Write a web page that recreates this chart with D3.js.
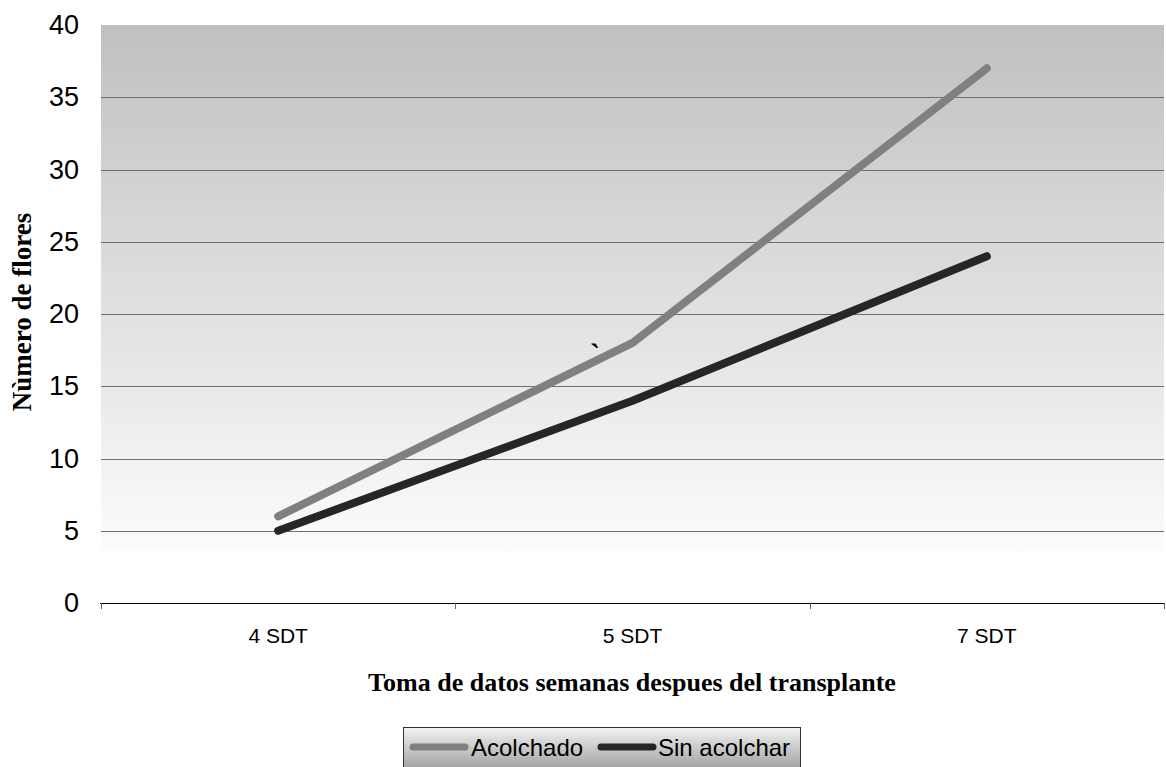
<!DOCTYPE html>
<html><head><meta charset="utf-8">
<script src="https://cdn.jsdelivr.net/npm/d3@7"></script>
<style>body{margin:0;background:#fff}svg{display:block}</style>
</head><body>
<script>
const categories = ["4 SDT", "5 SDT", "7 SDT"];
const acolchado = [6, 18, 37];
const sinAcolchar = [5, 14, 24];
const yTicks = [0, 5, 10, 15, 20, 25, 30, 35, 40];
const seriesNames = ["Acolchado", "Sin acolchar"];
const seriesColors = ["#808080", "#262626"];

const W = 1166, H = 767;
const m = {left: 101, right: 1164, top: 25, bottom: 603};
const svg = d3.select("body").append("svg").attr("width", W).attr("height", H);

const x = d3.scaleBand().domain(categories).range([m.left, m.right]);
const y = d3.scaleLinear().domain([0, 40]).range([m.bottom, m.top]);

const defs = svg.append("defs");
const g1 = defs.append("linearGradient").attr("id", "bg").attr("x1", 0).attr("y1", 0).attr("x2", 0).attr("y2", 1);
g1.append("stop").attr("offset", "0%").attr("stop-color", "#c0c0c0");
g1.append("stop").attr("offset", "91%").attr("stop-color", "#fcfcfc");
g1.append("stop").attr("offset", "91%").attr("stop-color", "#ffffff");
g1.append("stop").attr("offset", "100%").attr("stop-color", "#ffffff");

const g2 = defs.append("linearGradient").attr("id", "lg").attr("x1", 0).attr("y1", 0).attr("x2", 0).attr("y2", 1);
g2.append("stop").attr("offset", "0%").attr("stop-color", "#f2f2f2");
g2.append("stop").attr("offset", "100%").attr("stop-color", "#9a9a9a");

svg.append("rect").attr("x", m.left).attr("y", m.top).attr("width", m.right - m.left).attr("height", m.bottom - m.top).attr("fill", "url(#bg)");

// gridlines
svg.append("g").selectAll("line").data(yTicks.filter(d => d > 0 && d < 40)).join("line")
  .attr("x1", m.left).attr("x2", m.right)
  .attr("y1", d => Math.round(y(d)) + 0.5).attr("y2", d => Math.round(y(d)) + 0.5)
  .attr("stroke", "#6e6e6e").attr("stroke-width", 1);

// y axis labels
const yAxis = d3.axisLeft(y).tickValues(yTicks).tickSize(0).tickPadding(22);
const ya = svg.append("g").attr("transform", `translate(${m.left},0)`).call(yAxis);
ya.select(".domain").remove();
ya.selectAll("text").attr("font-family", "Liberation Sans, Arial, sans-serif").attr("font-size", 27).attr("fill", "#000");

// x axis
const xAxis = d3.axisBottom(x).tickSize(0).tickPadding(25);
const xa = svg.append("g").attr("transform", `translate(0,${m.bottom})`).call(xAxis);
xa.select(".domain").remove();
xa.selectAll("text").attr("font-family", "Liberation Sans, Arial, sans-serif").attr("font-size", 21).attr("fill", "#000");
svg.append("line").attr("x1", m.left - 1).attr("x2", m.right + 1).attr("y1", m.bottom + 0.5).attr("y2", m.bottom + 0.5).attr("stroke", "#000");
const bounds = [m.left, ...categories.map(c => x(c) + x.bandwidth())];
svg.append("g").selectAll("line").data(bounds).join("line")
  .attr("x1", d => Math.round(d) + 0.5).attr("x2", d => Math.round(d) + 0.5)
  .attr("y1", m.bottom).attr("y2", m.bottom + 6).attr("stroke", "#666");

// lines
const line = d3.line().x((d, i) => x(categories[i]) + x.bandwidth() / 2).y(d => y(d));
[acolchado, sinAcolchar].forEach((s, i) => {
  svg.append("path").attr("d", line(s)).attr("fill", "none")
    .attr("stroke", seriesColors[i]).attr("stroke-width", 8)
    .attr("stroke-linecap", "round").attr("stroke-linejoin", "round");
});

// stray mark
svg.append("text").attr("x", 590).attr("y", 364).attr("font-family", "Liberation Serif, serif").attr("font-size", 30).attr("font-weight", "bold").text("`");

// axis titles
svg.append("text").attr("x", 632).attr("y", 691).attr("text-anchor", "middle")
  .attr("font-family", "Liberation Serif, 'Times New Roman', serif").attr("font-weight", "bold").attr("font-size", 26)
  .text("Toma de datos semanas despues del transplante");
svg.append("text").attr("transform", "translate(31,312) rotate(-90)").attr("text-anchor", "middle")
  .attr("font-family", "Liberation Serif, 'Times New Roman', serif").attr("font-weight", "bold").attr("font-size", 27)
  .text("Nùmero de flores");

// legend
const lx = 403, ly = 727, lw = 397, lh = 45;
svg.append("rect").attr("x", lx + 0.5).attr("y", ly + 0.5).attr("width", lw).attr("height", lh)
  .attr("fill", "url(#lg)").attr("stroke", "#333").attr("stroke-width", 1);
const items = [{x: 413, tx: 471}, {x: 601, tx: 658}];
seriesNames.forEach((n, i) => {
  svg.append("line").attr("x1", items[i].x).attr("x2", items[i].x + 52).attr("y1", 747).attr("y2", 747)
    .attr("stroke", seriesColors[i]).attr("stroke-width", 7).attr("stroke-linecap", "round");
  svg.append("text").attr("x", items[i].tx).attr("y", 756).attr("font-family", "Liberation Sans, Arial, sans-serif")
    .attr("font-size", 24).attr("fill", "#000").text(n);
});
</script>
</body></html>
